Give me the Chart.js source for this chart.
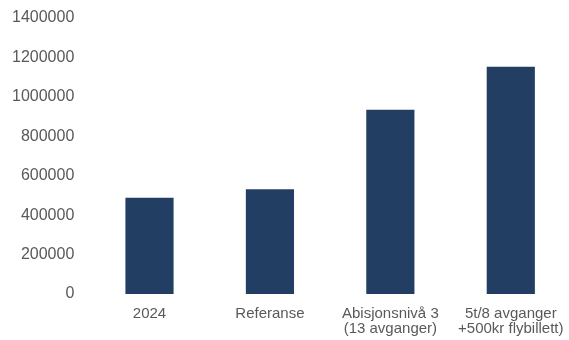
<!DOCTYPE html>
<html>
<head>
<meta charset="utf-8">
<script src="https://cdn.jsdelivr.net/npm/chart.js@4/dist/chart.umd.min.js"></script>
<style>
  html, body { margin: 0; padding: 0; background: #fff; overflow: hidden; }
  #wrap { width: 600px; height: 345px; margin-top: -5px; }
</style>
</head>
<body>
<div id="wrap"><canvas id="bar-chart"></canvas></div>
<script>
const categories = ['2024', 'Referanse', ['Abisjonsnivå 3', '(13 avganger)'], ['5t/8 avganger', '+500kr flybillett)']];
const values = [488000, 531000, 934000, 1153000];
const yMin = 0;
const yMax = 1400000;
const yStep = 200000;

document.addEventListener('DOMContentLoaded', function() {
    const ctx = document.getElementById('bar-chart').getContext('2d');

    new Chart(ctx, {
        type: 'bar',
        data: {
            labels: categories,
            datasets: [{
                data: values,
                backgroundColor: '#223f63',
                barPercentage: 0.8,
                categoryPercentage: 0.5
            }]
        },
        options: {
            responsive: true,
            maintainAspectRatio: false,
            animation: false,
            layout: { padding: { left: -3, top: 0, right: 29, bottom: -8 } },
            plugins: {
                legend: { display: false },
                tooltip: { enabled: false }
            },
            scales: {
                x: {
                    grid: { display: false, drawTicks: false },
                    border: { display: false },
                    ticks: {
                        color: '#595959',
                        padding: 12,
                        maxRotation: 0,
                        font: { family: 'Liberation Sans', size: 15, lineHeight: 1.0 }
                    }
                },
                y: {
                    min: yMin,
                    max: yMax,
                    grid: { display: false, drawTicks: false },
                    border: { display: false },
                    ticks: {
                        stepSize: yStep,
                        color: '#595959',
                        padding: 15,
                        font: { family: 'Liberation Sans', size: 16, lineHeight: 1.0 },
                        callback: function(v) { return String(v); }
                    }
                }
            }
        }
    });
});
</script>
</body>
</html>
